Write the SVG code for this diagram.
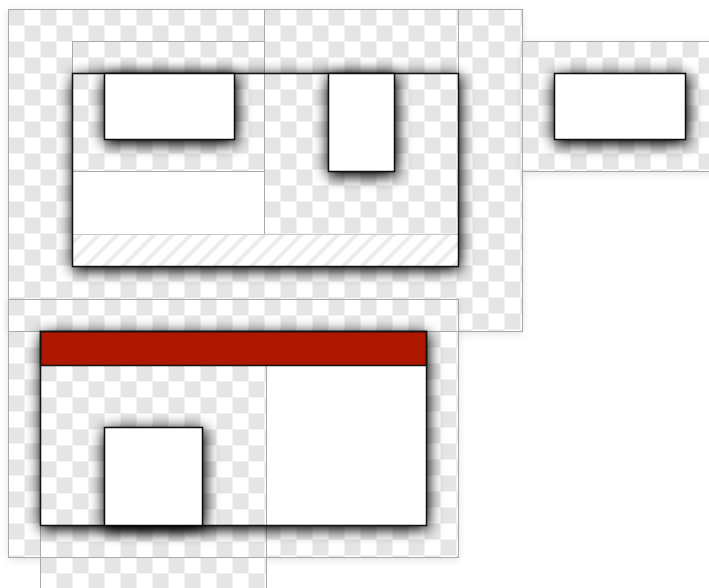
<svg xmlns="http://www.w3.org/2000/svg" width="709" height="588" viewBox="0 0 709 588">
<style>
.chk{fill:url(#chk)}
.edge{fill:none;stroke:#aaaaaa;stroke-width:1}
.frame{fill:none;stroke:#111;stroke-width:1.5}
.box{fill:#fff;stroke:#111;stroke-width:1.5;filter:url(#sh)}
.sho{fill:#000;filter:url(#shout)}
.faint{filter:url(#faint)}
</style>
<defs>
<pattern id="chk" patternUnits="userSpaceOnUse" x="0" y="0" width="32" height="32">
<rect width="32" height="32" fill="#fff"/>
<rect width="16" height="16" fill="#e5e5e5"/>
<rect x="16" y="16" width="16" height="16" fill="#e5e5e5"/>
</pattern>
<pattern id="hatch" patternUnits="userSpaceOnUse" width="13" height="13" patternTransform="rotate(45)">
<rect width="13" height="13" fill="#fff"/>
<rect width="4" height="13" fill="#ececec"/>
</pattern>
<filter id="sh" x="-60%" y="-60%" width="220%" height="220%">
<feGaussianBlur in="SourceAlpha" stdDeviation="7.5"/>
<feOffset dx="1" dy="3"/>
<feComponentTransfer><feFuncA type="linear" slope="1.2"/></feComponentTransfer>
<feMerge><feMergeNode/><feMergeNode in="SourceGraphic"/></feMerge>
</filter>
<filter id="shout" x="-20%" y="-30%" width="140%" height="160%">
<feGaussianBlur in="SourceAlpha" stdDeviation="7.5"/>
<feOffset dx="1" dy="3"/>
<feComponentTransfer><feFuncA type="linear" slope="1.2"/></feComponentTransfer>
<feComposite in2="SourceAlpha" operator="out"/>
</filter>
<filter id="faint" x="-20%" y="-20%" width="140%" height="140%">
<feGaussianBlur in="SourceAlpha" stdDeviation="4"/>
<feOffset dy="2"/>
<feComponentTransfer><feFuncA type="linear" slope="0.12"/></feComponentTransfer>
<feMerge><feMergeNode/><feMergeNode in="SourceGraphic"/></feMerge>
</filter>
</defs>
<rect width="709" height="588" fill="#fff"/>

<g id="backgrounds">
<rect class="chk faint" transform="translate(8.5,9.5)" width="514" height="322"/>
<rect class="chk faint" transform="translate(522.5,41.5)" width="200" height="130"/>
<rect class="chk faint" transform="translate(8.5,299.5)" width="450" height="258"/>
<rect class="chk" transform="translate(264.5,9.5)" width="194" height="225"/>
<rect class="chk" transform="translate(72.5,41.5)" width="192" height="130"/>
<rect class="chk" transform="translate(40.5,365.5)" width="226" height="240"/>
<rect class="edge" x="8.5" y="9.5" width="514" height="322"/>
<rect class="edge" x="522.5" y="41.5" width="200" height="130"/>
<rect class="edge" x="8.5" y="299.5" width="450" height="258"/>
<rect class="edge" x="264.5" y="9.5" width="194" height="225"/>
<rect class="edge" x="72.5" y="41.5" width="192" height="130"/>
<rect class="edge" x="40.5" y="365.5" width="226" height="240"/>
</g>

<g id="frame-top">
<rect class="sho" x="72.5" y="73.5" width="386" height="193"/>
<rect x="73" y="172" width="191" height="62" fill="#fff"/>
<rect x="72.5" y="234.5" width="386" height="32" fill="url(#hatch)" stroke="#c8c8c8" stroke-width="1"/>
<rect class="frame" x="72.5" y="73.5" width="386" height="193"/>
</g>
<g id="box-top-left">
<rect class="box" x="104.5" y="73.5" width="130" height="66"/>
</g>
<g id="box-top-tall">
<rect class="box" x="328.5" y="73.5" width="66" height="98"/>
</g>
<g id="box-right">
<rect class="box" x="554.5" y="73.5" width="131" height="66"/>
</g>

<g id="frame-bottom">
<rect class="sho" x="40.5" y="331.5" width="386" height="194"/>
<rect x="267" y="366" width="159" height="159" fill="#fff"/>
<rect x="40.5" y="331.5" width="386" height="34" fill="#ae1700" stroke="#111" stroke-width="1.5"/>
<rect class="frame" x="40.5" y="331.5" width="386" height="194"/>
</g>
<g id="box-bottom">
<rect class="box" x="104.5" y="427.5" width="98" height="98"/>
</g>
</svg>
